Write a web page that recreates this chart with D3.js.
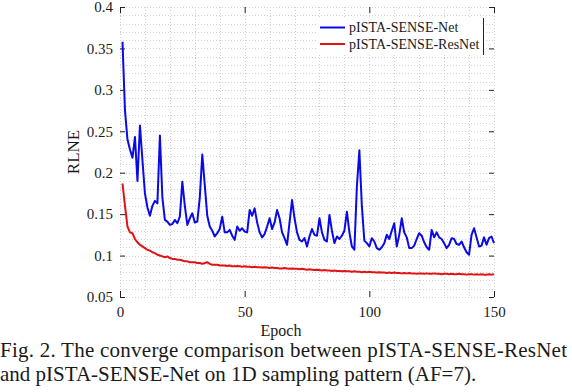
<!DOCTYPE html>
<html>
<head>
<meta charset="utf-8">
<script src="https://cdn.jsdelivr.net/npm/d3@7/dist/d3.min.js"></script>
<style>
  html, body { margin: 0; padding: 0; background: #fff; }
  svg { display: block; }
</style>
</head>
<body>
<svg id="chart" width="572" height="392"></svg>
<script>
// ---- data ----
const seriesNames = ["pISTA-SENSE-Net", "pISTA-SENSE-ResNet"];
const epochs = d3.range(1, 151);
const netRLNE = [
  0.358, 0.275, 0.240, 0.228, 0.218, 0.243, 0.190, 0.257, 0.215, 0.175,
  0.158, 0.148, 0.160, 0.166, 0.163, 0.245, 0.170, 0.143, 0.141, 0.137,
  0.138, 0.143, 0.139, 0.147, 0.189, 0.160, 0.137, 0.145, 0.151, 0.140,
  0.141, 0.170, 0.222, 0.185, 0.148, 0.135, 0.130, 0.123, 0.127, 0.132,
  0.147, 0.128, 0.128, 0.131, 0.124, 0.119, 0.135, 0.130, 0.133, 0.129,
  0.128, 0.155, 0.148, 0.157, 0.140, 0.128, 0.122, 0.126, 0.135, 0.145,
  0.132, 0.140, 0.155, 0.145, 0.128, 0.121, 0.113, 0.140, 0.167, 0.145,
  0.128, 0.119, 0.117, 0.121, 0.111, 0.123, 0.132, 0.125, 0.124, 0.145,
  0.128, 0.119, 0.117, 0.149, 0.130, 0.115, 0.123, 0.120, 0.124, 0.130,
  0.153, 0.128, 0.111, 0.107, 0.183, 0.227, 0.160, 0.118, 0.115, 0.111,
  0.121, 0.117, 0.109, 0.107, 0.110, 0.115, 0.125, 0.120, 0.130, 0.139,
  0.111, 0.125, 0.145, 0.128, 0.122, 0.109, 0.109, 0.112, 0.120, 0.127,
  0.124, 0.116, 0.110, 0.107, 0.131, 0.122, 0.128, 0.122, 0.120, 0.115,
  0.109, 0.113, 0.121, 0.120, 0.114, 0.113, 0.117, 0.110, 0.104, 0.101,
  0.125, 0.133, 0.122, 0.111, 0.112, 0.122, 0.113, 0.121, 0.123, 0.115
];
const resNetRLNE = [
  0.187, 0.160, 0.135, 0.128, 0.127, 0.120, 0.116, 0.113, 0.111, 0.109,
  0.107, 0.106, 0.104, 0.103, 0.101, 0.100, 0.099, 0.098, 0.099, 0.097,
  0.096, 0.096, 0.095, 0.095, 0.094, 0.093, 0.093, 0.092, 0.092, 0.092,
  0.091, 0.091, 0.090, 0.091, 0.092, 0.090, 0.089, 0.089, 0.089, 0.088,
  0.088, 0.088, 0.0875, 0.088, 0.087, 0.087, 0.0875, 0.087, 0.0865, 0.087,
  0.0865, 0.0865, 0.086, 0.0865, 0.086, 0.086, 0.0855, 0.086, 0.0855, 0.085,
  0.0855, 0.085, 0.085, 0.0845, 0.0845, 0.085, 0.0845, 0.084, 0.0845, 0.084,
  0.084, 0.0835, 0.084, 0.0835, 0.083, 0.0835, 0.083, 0.0825, 0.083, 0.0825,
  0.082, 0.0825, 0.082, 0.082, 0.0815, 0.082, 0.0815, 0.0815, 0.081, 0.0815,
  0.081, 0.081, 0.0805, 0.081, 0.0805, 0.0805, 0.080, 0.0805, 0.080, 0.0805,
  0.080, 0.080, 0.0795, 0.080, 0.0795, 0.0795, 0.079, 0.0795, 0.079, 0.0795,
  0.079, 0.079, 0.0785, 0.079, 0.0785, 0.079, 0.0785, 0.0785, 0.078, 0.0785,
  0.0785, 0.078, 0.0785, 0.078, 0.078, 0.0785, 0.078, 0.078, 0.0775, 0.078,
  0.078, 0.0775, 0.078, 0.0775, 0.0775, 0.078, 0.0775, 0.0775, 0.077, 0.0775,
  0.0775, 0.077, 0.0775, 0.077, 0.0775, 0.077, 0.077, 0.0775, 0.077, 0.0775
];
const xTicks = [0, 50, 100, 150];
const yTicks = [0.05, 0.1, 0.15, 0.2, 0.25, 0.3, 0.35, 0.4];
const yTickLabels = ["0.05", "0.1", "0.15", "0.2", "0.25", "0.3", "0.35", "0.4"];
const xGrid = d3.range(0, 151, 10);
const yGrid = d3.range(5, 41, 1).map(v => v / 100);
const captionLines = [
  "Fig. 2. The converge comparison between pISTA-SENSE-ResNet",
  "and pISTA-SENSE-Net on 1D sampling pattern (AF=7)."
];
const colors = ["#0a0ae6", "#e01414"];

// ---- layout ----
const FONT = '"Liberation Serif", "Times New Roman", Times, serif';
const svg = d3.select("#chart");
const L = 120, R = 494, T = 7, B = 297;
const x = d3.scaleLinear().domain([0, 150]).range([L, R]);
const y = d3.scaleLinear().domain([0.05, 0.4]).range([B, T]);

// grid
const grid = svg.append("g").attr("stroke", "#d2d2d2").attr("stroke-width", 1)
  .attr("stroke-dasharray", "1,2");
grid.selectAll("line.v").data(xGrid).join("line").attr("class", "v")
  .attr("x1", d => Math.round(x(d)) + 0.5).attr("x2", d => Math.round(x(d)) + 0.5)
  .attr("y1", T).attr("y2", B);
grid.selectAll("line.h").data(yGrid).join("line").attr("class", "h")
  .attr("y1", d => Math.round(y(d)) + 0.5).attr("y2", d => Math.round(y(d)) + 0.5)
  .attr("x1", L).attr("x2", R);

// axes (ticks only, inward)
const axStyle = g => {
  g.attr("font-family", FONT).attr("font-size", 15);
  g.select(".domain").remove();
  g.selectAll(".tick line").attr("stroke", "#222");
  g.selectAll("text").attr("fill", "#1a1a1a").attr("font-family", FONT).attr("font-size", 15);
};
svg.append("g").attr("transform", `translate(${L},0)`)
  .call(d3.axisLeft(y).tickValues(yTicks).tickFormat((d, i) => yTickLabels[i])
    .tickSizeInner(-5).tickSizeOuter(0).tickPadding(7))
  .call(axStyle);
svg.append("g").attr("transform", `translate(${R},0)`)
  .call(d3.axisRight(y).tickValues(yTicks).tickFormat("")
    .tickSizeInner(-5).tickSizeOuter(0))
  .call(axStyle);
svg.append("g").attr("transform", `translate(0,${B})`)
  .call(d3.axisBottom(x).tickValues(xTicks).tickFormat(d3.format("d"))
    .tickSizeInner(-6).tickSizeOuter(0).tickPadding(9))
  .call(axStyle);
svg.append("g").attr("transform", `translate(0,${T})`)
  .call(d3.axisTop(x).tickValues(xTicks).tickFormat("")
    .tickSizeInner(-6).tickSizeOuter(0))
  .call(axStyle);

// lines
const line = d3.line().x((d, i) => x(epochs[i])).y(d => y(d));
[netRLNE, resNetRLNE].forEach((s, k) => {
  svg.append("path").datum(s).attr("d", line)
    .attr("fill", "none").attr("stroke", colors[k])
    .attr("stroke-width", 2).attr("stroke-linejoin", "round");
});

// axis titles
svg.append("text").attr("x", 281).attr("y", 336).attr("text-anchor", "middle")
  .attr("font-family", FONT).attr("font-size", 16).attr("fill", "#1a1a1a").text("Epoch");
svg.append("text").attr("transform", "translate(79,152) rotate(-90)")
  .attr("text-anchor", "middle").attr("font-family", FONT).attr("font-size", 17)
  .attr("fill", "#1a1a1a").text("RLNE");

// legend
const lg = svg.append("g");
lg.append("rect").attr("x", 317).attr("y", 18).attr("width", 166).attr("height", 37)
  .attr("fill", "#fff");
lg.append("line").attr("x1", 483.5).attr("x2", 483.5).attr("y1", 18).attr("y2", 55)
  .attr("stroke", "#222").attr("stroke-width", 1);
seriesNames.forEach((n, k) => {
  const yy = 27.5 + k * 16.5;
  lg.append("line").attr("x1", 320).attr("x2", 345).attr("y1", yy).attr("y2", yy)
    .attr("stroke", colors[k]).attr("stroke-width", 2);
  lg.append("text").attr("x", 349).attr("y", yy + 4.8)
    .attr("font-family", FONT).attr("font-size", 14).attr("fill", "#1a1a1a").text(n);
});

// caption (first line justified to full width)
captionLines.forEach((t, i) => {
  const tx = svg.append("text").attr("x", 0).attr("y", 357 + i * 23.5)
    .attr("font-family", FONT).attr("font-size", 21).attr("fill", "#1a1a1a").text(t);
  if (i === 0) tx.attr("textLength", 567).attr("lengthAdjust", "spacing");
});
</script>
</body>
</html>
